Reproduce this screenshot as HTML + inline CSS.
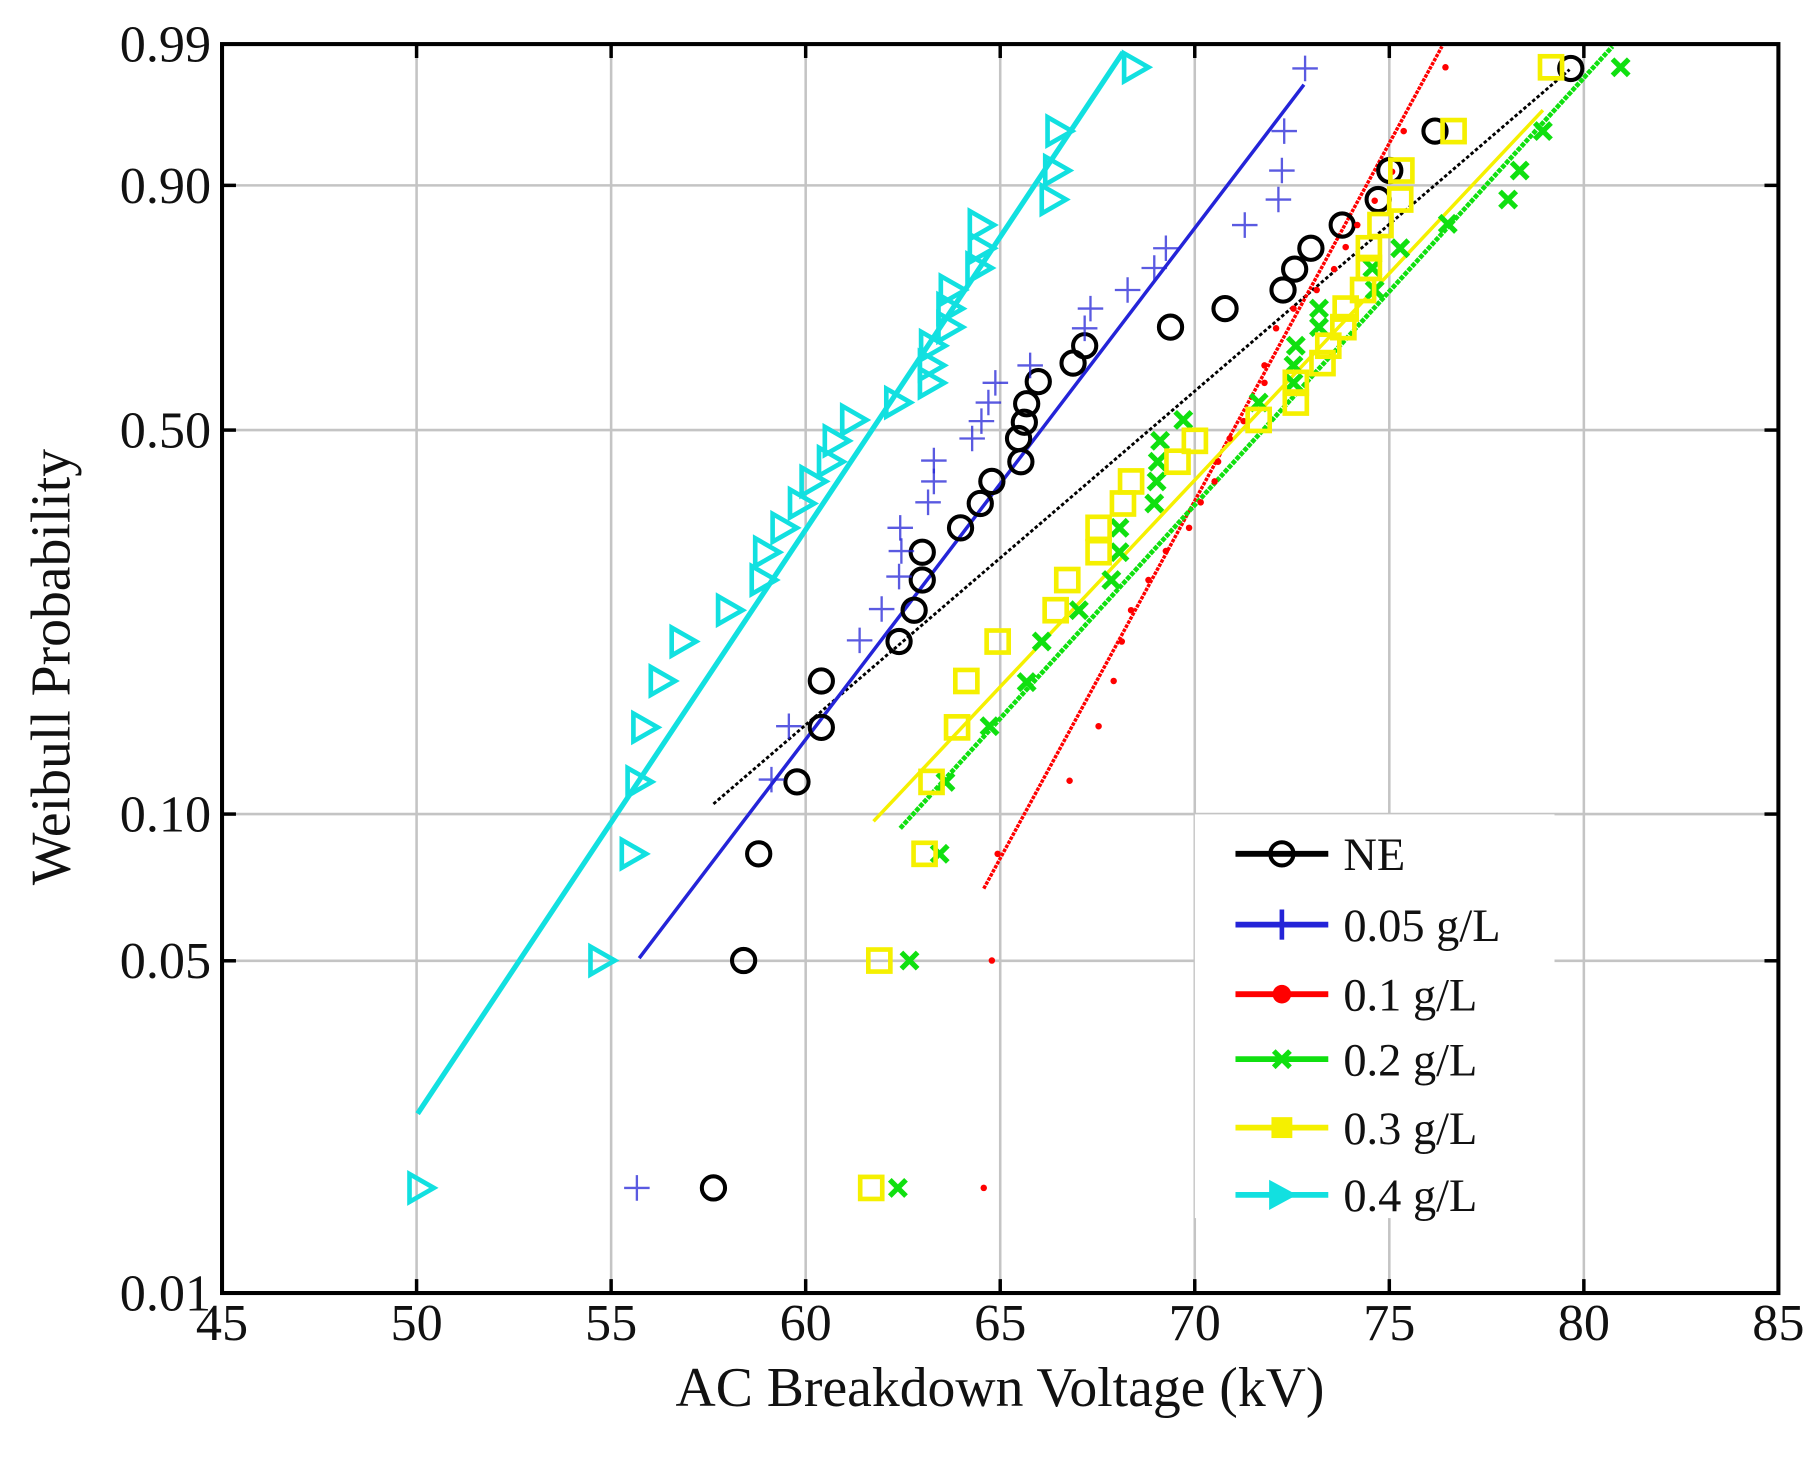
<!DOCTYPE html>
<html><head><meta charset="utf-8"><style>
html,body{margin:0;padding:0;background:#fff;}
svg{display:block;}
text{font-family:"Liberation Serif",serif;fill:#111;}
</style></head><body>
<svg id="s" width="1819" height="1466" viewBox="0 0 1568 1263.7" preserveAspectRatio="none" xmlns="http://www.w3.org/2000/svg"></svg>
<script>
const s=document.getElementById('s');
let h='';
const L=191.4,R=1533,T=38,B=1114.6;
const X=v=>L+(v-45)*(R-L)/40;
const W=p=>Math.log(-Math.log(1-p));
const Y=p=>T+(W(0.99)-W(p))*(B-T)/(W(0.99)-W(0.01));
for(let v=50;v<85;v+=5)h+=`<line x1="${X(v)}" y1="${T}" x2="${X(v)}" y2="${B}" stroke="#c4c4c4" stroke-width="2.2"/>`;
const ps=[0.90,0.50,0.10,0.05];
ps.forEach(p=>h+=`<line x1="${L}" y1="${Y(p)}" x2="${R}" y2="${Y(p)}" stroke="#c4c4c4" stroke-width="2.2"/>`);
for(let v=50;v<85;v+=5){h+=`<line x1="${X(v)}" y1="${B}" x2="${X(v)}" y2="${B-12}" stroke="#000" stroke-width="3"/><line x1="${X(v)}" y1="${T}" x2="${X(v)}" y2="${T+12}" stroke="#000" stroke-width="3"/>`;}
ps.forEach(p=>{h+=`<line x1="${L}" y1="${Y(p)}" x2="${L+12}" y2="${Y(p)}" stroke="#000" stroke-width="3"/><line x1="${R}" y1="${Y(p)}" x2="${R-12}" y2="${Y(p)}" stroke="#000" stroke-width="3"/>`;});
[0.99,0.90,0.50,0.10,0.05,0.01].forEach(p=>h+=`<text x="182" y="${Y(p)+15}" font-size="45" text-anchor="end">${p.toFixed(2)}</text>`);
for(let v=45;v<=85;v+=5)h+=`<text x="${X(v)}" y="1155" font-size="45" text-anchor="middle">${v}</text>`;
h+=`<text x="862" y="1212" font-size="48" text-anchor="middle">AC Breakdown Voltage (kV)</text>`;
h+=`<text transform="translate(60,575) rotate(-90)" font-size="48" text-anchor="middle">Weibull Probability</text>`;
function mk(t,x,y,c){
 if(t=='o')return `<circle cx="${x}" cy="${y}" r="10" fill="none" stroke="${c}" stroke-width="3.5"/>`;
 if(t=='+')return `<path d="M${x-11} ${y}H${x+11}M${x} ${y-11}V${y+11}" stroke="${c}" stroke-width="2" opacity="0.75"/>`;
 if(t=='.')return `<circle cx="${x}" cy="${y}" r="2.8" fill="${c}"/>`;
 if(t=='x')return `<path d="M${x-7} ${y-7}L${x+7} ${y+7}M${x+7} ${y-7}L${x-7} ${y+7}" stroke="${c}" stroke-width="4.5"/>`;
 if(t=='s')return `<rect x="${x-9.5}" y="${y-9.5}" width="19" height="19" fill="none" stroke="${c}" stroke-width="4"/>`;
 if(t=='>')return `<path d="M${x-9} ${y-12}L${x+12} ${y}L${x-9} ${y+12}Z" fill="none" stroke="${c}" stroke-width="4"/>`;
}
const ser=[
 {t:'o',c:'#000',w:2.5,d:'3,2',ln:[615,693,1353,60],p:[[615,1024],[641,828],[654,736],[687,674],[708,627],[708,587],[775,553],[788,526],[795,500],[795,476],[828,455],[845,434],[855,415],[880,398],[878,378],[883,364],[885,348],[895,329],[925,313],[935,298],[1009,282],[1056,266],[1106,250],[1116,232],[1130,214],[1157,194],[1188,172],[1198,147],[1237,113],[1354,59]]},
 {t:'+',c:'#2424d8',w:3,d:'',ln:[551,826,1124,73],p:[[549,1024],[665,672],[680,626],[741,552],[760,525],[775,497],[777,475],[776,455],[800,433],[805,415],[805,397],[838,378],[846,363],[852,347],[858,330],[888,315],[935,283],[940,266],[972,250],[995,231],[1005,214],[1073,194],[1102,172],[1105,147],[1107,113],[1125,59]]},
 {t:'.',c:'#f00',w:3,d:'3,1',ln:[848,766,1243,40],p:[[848,1024],[855,828],[860,736],[922,673],[947,626],[960,587],[967,553],[975,526],[990,500],[1005,475],[1025,455],[1035,433],[1047,415],[1050,398],[1060,378],[1072,363],[1085,347],[1090,330],[1090,315],[1100,283],[1115,266],[1135,250],[1150,232],[1160,213],[1170,194],[1185,173],[1200,148],[1210,113],[1246,58]]},
 {t:'x',c:'#10e010',w:4,d:'4,1',ln:[776,714,1390,40],p:[[774,1024],[784,828],[810,736],[815,674],[853,626],[885,588],[898,553],[930,526],[958,500],[965,476],[965,455],[995,434],[997,415],[998,398],[1000,380],[1020,362],[1085,347],[1115,330],[1115,315],[1117,298],[1137,282],[1137,266],[1185,250],[1183,231],[1207,214],[1248,193],[1300,172],[1310,147],[1330,113],[1397,58]]},
 {t:'s',c:'#f5f000',w:3,d:'',ln:[753,708,1330,95],p:[[751,1024],[758,828],[797,736],[803,674],[825,627],[833,587],[860,553],[910,526],[920,500],[947,476],[947,455],[968,434],[975,415],[1015,398],[1030,380],[1085,362],[1117,347],[1117,330],[1140,313],[1145,298],[1158,282],[1160,266],[1175,250],[1180,231],[1180,214],[1190,194],[1207,172],[1208,147],[1253,113],[1337,58]]},
 {t:'>',c:'#12e0e0',w:4.5,d:'',ln:[360,960,968,45],p:[[362,1024],[518,828],[545,736],[550,674],[555,627],[570,587],[588,553],[628,526],[657,500],[660,476],[675,455],[690,434],[700,415],[715,398],[720,380],[735,362],[773,347],[802,330],[802,315],[803,298],[818,282],[818,266],[820,250],[843,231],[845,214],[845,194],[907,172],[910,147],[912,113],[978,58]]}
];
ser.forEach(o=>{const l=o.ln;h+=`<line x1="${l[0]}" y1="${l[1]}" x2="${l[2]}" y2="${l[3]}" stroke="${o.c}" stroke-width="${o.w}" ${o.d?`stroke-dasharray="${o.d}"`:''}/>`;});
ser.forEach(o=>o.p.forEach(q=>h+=mk(o.t,q[0],q[1],o.c)));
h+=`<rect x="1030" y="702" width="310" height="348" fill="#fff"/>`;
const lab=['NE','0.05 g/L','0.1 g/L','0.2 g/L','0.3 g/L','0.4 g/L'];
const ly=[736,797,857,913,972,1030];
ser.forEach((o,i)=>{const y=ly[i];h+=`<line x1="1065" y1="${y}" x2="1145" y2="${y}" stroke="${o.c}" stroke-width="5"/>`;
 if(o.t=='.')h+=`<circle cx="1105" cy="${y}" r="8" fill="${o.c}"/>`;
 else if(o.t=='>')h+=`<path d="M1094 ${y-13}L1118 ${y}L1094 ${y+13}Z" fill="${o.c}"/>`;
 else if(o.t=='+')h+=`<path d="M1105 ${y-13}V${y+13}" stroke="${o.c}" stroke-width="4"/>`;
 else if(o.t=='s')h+=`<rect x="1096" y="${y-9}" width="18" height="18" fill="${o.c}"/>`;
 else h+=mk(o.t,1105,y,o.c);
 h+=`<text x="1158" y="${y+14}" font-size="40">${lab[i]}</text>`;});
h+=`<rect x="${L}" y="${T}" width="${R-L}" height="${B-T}" fill="none" stroke="#000" stroke-width="3.5"/>`;
s.innerHTML=h;
</script>
</body></html>
